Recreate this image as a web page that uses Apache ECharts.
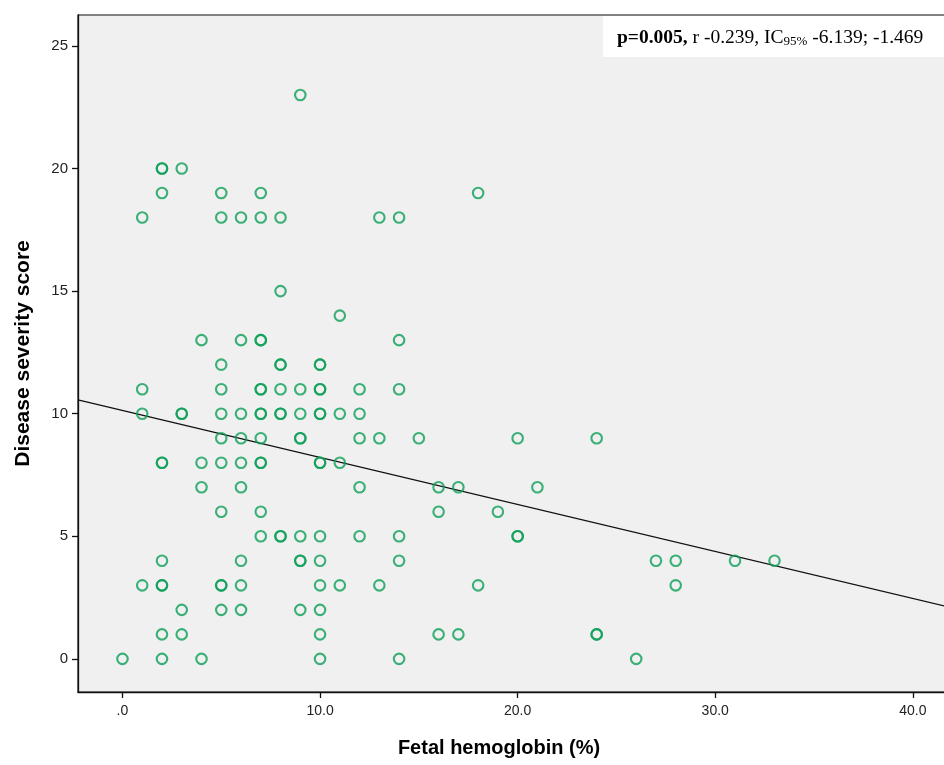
<!DOCTYPE html>
<html>
<head>
<meta charset="utf-8">
<script src="https://cdn.jsdelivr.net/npm/echarts@6/dist/echarts.min.js"></script>
<style>
  html, body { margin: 0; padding: 0; background: #fff; }
  #chart { width: 944px; height: 765px; }
</style>
</head>
<body>
<div id="chart"></div>
<script>
// severity score rows, and the fetal hemoglobin (%) of every patient on that row
const scoreLevels = [23, 20, 19, 18, 15, 14, 13, 12, 11, 10, 9, 8, 7, 6, 5, 4, 3, 2, 1, 0]
const hbAtLevel = [
  [9],
  [2, 2, 3],
  [2, 5, 7, 18],
  [1, 5, 6, 7, 8, 13, 14],
  [8],
  [11],
  [4, 6, 7, 7, 14],
  [5, 8, 8, 10, 10],
  [1, 5, 7, 7, 8, 9, 10, 10, 12, 14],
  [1, 3, 3, 5, 6, 7, 7, 8, 8, 9, 10, 10, 11, 12],
  [5, 6, 7, 9, 9, 12, 13, 15, 20, 24],
  [2, 2, 4, 5, 6, 7, 7, 10, 10, 11],
  [4, 6, 12, 16, 17, 21],
  [5, 7, 16, 19],
  [7, 8, 8, 9, 10, 12, 14, 20, 20],
  [2, 6, 9, 9, 10, 14, 27, 28, 31, 33],
  [1, 2, 2, 5, 5, 6, 10, 11, 13, 18, 28],
  [3, 5, 6, 9, 10],
  [2, 3, 10, 16, 17, 24, 24],
  [0, 2, 4, 10, 14, 26]
]

// fitted line, read at both ends of the plot
const fitX = [-2.25, 41.8]
const fitY = [10.56, 2.12]

const xTicks = [0, 10, 20, 30, 40]
const yTicks = [0, 5, 10, 15, 20, 25]

const points = []
scoreLevels.forEach((s, i) => {
  hbAtLevel[i].forEach(hb => points.push([hb, s]))
})

const green = '#0d9f58'
const sans = "'Liberation Sans', Arial, sans-serif"
const serif = "'Liberation Serif', 'Times New Roman', serif"

const option = {
  animation: false,
  backgroundColor: '#fff',
  grid: {
    left: 78,
    top: 15,
    width: 870,
    bottom: 73,
    outerBoundsMode: 'none',
    show: true,
    backgroundColor: '#f0f0f0',
    borderColor: '#111',
    borderWidth: 1.2
  },
  xAxis: {
    type: 'value',
    min: -2.25,
    max: 41.78,
    name: 'Fetal hemoglobin (%)',
    nameLocation: 'middle',
    nameGap: 46,
    nameTextStyle: {
      fontFamily: sans,
      fontWeight: 'bold',
      fontSize: 20,
      color: '#000',
      padding: [0, 28, 0, 0]
    },
    axisLine: { onZero: false, lineStyle: { color: '#111', width: 1.3 } },
    axisTick: { customValues: xTicks, length: 6, lineStyle: { color: '#111', width: 1.3 } },
    axisLabel: {
      customValues: xTicks,
      margin: 12,
      fontFamily: sans,
      fontSize: 14,
      color: '#222',
      formatter: v => v === 0 ? '.0' : v.toFixed(1)
    },
    splitLine: { show: false }
  },
  yAxis: {
    type: 'value',
    min: -1.35,
    max: 26.26,
    name: 'Disease severity score',
    nameLocation: 'middle',
    nameGap: 44,
    nameTextStyle: {
      fontFamily: sans,
      fontWeight: 'bold',
      fontSize: 21,
      color: '#000'
    },
    axisLine: { onZero: false, lineStyle: { color: '#111', width: 1.3 } },
    axisTick: { customValues: yTicks, length: 6, lineStyle: { color: '#111', width: 1.3 } },
    axisLabel: {
      customValues: yTicks,
      margin: 10,
      fontFamily: sans,
      fontSize: 15,
      color: '#222'
    },
    splitLine: { show: false }
  },
  series: [
    {
      type: 'line',
      data: [[fitX[0], fitY[0]], [fitX[1], fitY[1]]],
      symbol: 'none',
      lineStyle: { color: '#111', width: 1.3 },
      silent: true,
      z: 1
    },
    {
      type: 'scatter',
      data: points,
      symbol: 'circle',
      symbolSize: 10.5,
      itemStyle: { color: 'rgba(0,0,0,0)', borderColor: green, borderWidth: 2.1 },
      z: 2
    }
  ],
  graphic: [
    {
      type: 'rect',
      shape: { x: 603, y: 16, width: 342, height: 41 },
      style: { fill: '#fff' },
      z: 100
    },
    {
      type: 'text',
      x: 617,
      y: 37,
      z: 101,
      style: {
        text: '{b|p=0.005,}{n| r -0.239, IC}{s|95%}{n| -6.139; -1.469}',
        verticalAlign: 'middle',
        fill: '#000',
        rich: {
          b: { fontFamily: serif, fontWeight: 'bold', fontSize: 19.5, lineHeight: 22, verticalAlign: 'bottom' },
          n: { fontFamily: serif, fontSize: 19.5, lineHeight: 22, verticalAlign: 'bottom' },
          s: { fontFamily: serif, fontSize: 13, lineHeight: 16, verticalAlign: 'bottom' }
        }
      }
    }
  ]
}

const chart = echarts.init(document.getElementById('chart'))
chart.setOption(option)
</script>
</body>
</html>
